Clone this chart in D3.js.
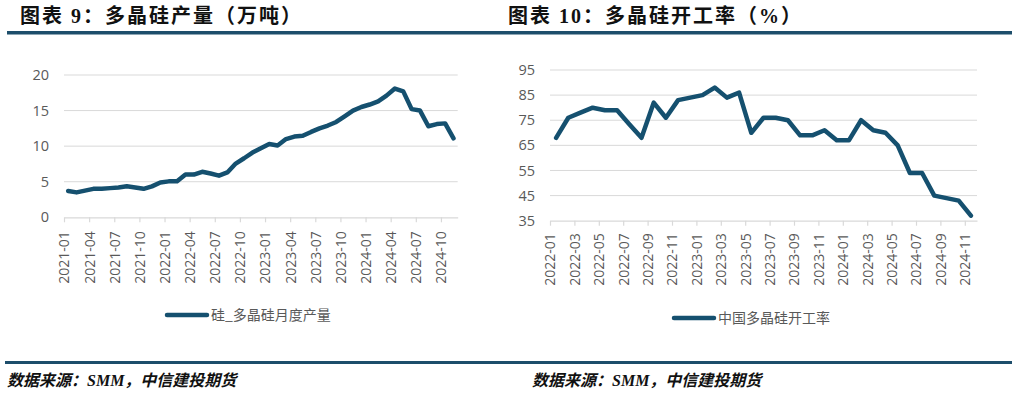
<!DOCTYPE html>
<html>
<head>
<meta charset="utf-8">
<script src="https://cdn.jsdelivr.net/npm/d3@7"></script>
<style>
  body { margin: 0; background: #fff; }
  svg { display: block; }
</style>
</head>
<body>
<svg id="chart" width="1017" height="397"></svg>
<script>
(function () {
    // polysilicon monthly output (10k tons), 2021-01 .. 2024-11
    var outputMonths = [
        "2021-01","2021-02","2021-03","2021-04","2021-05","2021-06","2021-07","2021-08","2021-09","2021-10","2021-11","2021-12",
        "2022-01","2022-02","2022-03","2022-04","2022-05","2022-06","2022-07","2022-08","2022-09","2022-10","2022-11","2022-12",
        "2023-01","2023-02","2023-03","2023-04","2023-05","2023-06","2023-07","2023-08","2023-09","2023-10","2023-11","2023-12",
        "2024-01","2024-02","2024-03","2024-04","2024-05","2024-06","2024-07","2024-08","2024-09","2024-10","2024-11"
    ];
    var outputValues = [
        3.7, 3.5, 3.75, 4.0, 4.0, 4.1, 4.2, 4.35, 4.2, 4.0, 4.35, 4.9,
        5.05, 5.05, 6.0, 6.0, 6.4, 6.15, 5.85, 6.3, 7.55, 8.3, 9.1, 9.7,
        10.3, 10.1, 11.0, 11.35, 11.45, 12.0, 12.5, 12.9, 13.4, 14.2, 15.0, 15.5,
        15.85, 16.3, 17.1, 18.1, 17.7, 15.2, 15.0, 12.8, 13.1, 13.2, 11.1
    ];
    var outputTicks = [0, 5, 10, 15, 20];

    // polysilicon operating rate (%), 2022-01 .. 2024-11
    var rateMonths = [
        "2022-01","2022-02","2022-03","2022-04","2022-05","2022-06","2022-07","2022-08","2022-09","2022-10","2022-11","2022-12",
        "2023-01","2023-02","2023-03","2023-04","2023-05","2023-06","2023-07","2023-08","2023-09","2023-10","2023-11","2023-12",
        "2024-01","2024-02","2024-03","2024-04","2024-05","2024-06","2024-07","2024-08","2024-09","2024-10","2024-11"
    ];
    var rateValues = [
        68, 76, 78, 80, 79, 79, 73.4, 68, 82, 76, 83, 84,
        85, 88, 84, 86, 70, 76, 76, 75, 69, 69, 71, 67,
        67, 75, 71, 70, 65, 54, 54, 45, 44, 43, 37
    ];
    var rateTicks = [35, 45, 55, 65, 75, 85, 95];

    var lineColor = "#15506f";
    var ruleColor = "#1d4e6b";
    var gridColor = "#d9d9d9";
    var labelColor = "#595959";
    var labelFont = "'Open Sans', 'Noto Sans CJK SC', sans-serif";

    var svg = d3.select("#chart");

    // header titles
    svg.append("text")
        .attr("x", 20).attr("y", 23)
        .attr("font-family", "'Liberation Serif', 'Noto Sans CJK SC', serif")
        .attr("font-weight", "bold").attr("font-size", 20)
        .attr("letter-spacing", 2).attr("fill", "#111")
        .text("图表 9：多晶硅产量（万吨）");

    svg.append("text")
        .attr("x", 508).attr("y", 23)
        .attr("font-family", "'Liberation Serif', 'Noto Sans CJK SC', serif")
        .attr("font-weight", "bold").attr("font-size", 20)
        .attr("letter-spacing", 2).attr("fill", "#111")
        .text("图表 10：多晶硅开工率（%）");

    // thick rules top and bottom
    svg.append("rect").attr("x", 7).attr("y", 31).attr("width", 1005).attr("height", 3.5).attr("fill", ruleColor);
    svg.append("rect").attr("x", 5).attr("y", 361).attr("width", 1007).attr("height", 3).attr("fill", ruleColor);

    // source notes
    [7, 532].forEach(function (x) {
        svg.append("text")
            .attr("x", x).attr("y", 386)
            .attr("font-family", "'Liberation Serif', 'Noto Sans CJK SC', serif")
            .attr("font-weight", "bold").attr("font-style", "italic")
            .attr("font-size", 16).attr("fill", "#111")
            .text("数据来源：SMM，中信建投期货");
    });

    // one line chart panel
    function drawPanel(opts) {
        var g = svg.append("g");

        var x = d3.scaleLinear().domain([0, opts.months.length]).range([opts.left, opts.right]);
        var y = d3.scaleLinear().domain(opts.yDomain).range([opts.bottom, opts.top]);

        // gridlines
        g.append("g")
            .selectAll("line")
            .data(opts.yTicks.slice(1))
            .join("line")
            .attr("x1", opts.left).attr("x2", opts.right)
            .attr("y1", function (d) { return y(d); })
            .attr("y2", function (d) { return y(d); })
            .attr("stroke", gridColor).attr("stroke-width", 1);

        // y labels
        var yAxis = g.append("g")
            .attr("transform", "translate(" + (opts.left - 6) + ",0)")
            .call(d3.axisLeft(y).tickValues(opts.yTicks).tickSize(0).tickPadding(9));
        yAxis.select(".domain").remove();
        yAxis.selectAll("text")
            .attr("font-family", labelFont).attr("font-size", 14.5).attr("fill", labelColor);

        // x axis with rotated month labels, ticks on slot edges
        var tickIdx = d3.range(0, opts.months.length, opts.step);
        var xAxis = g.append("g")
            .attr("transform", "translate(0," + opts.bottom + ")")
            .call(d3.axisBottom(x)
                .tickValues(tickIdx)
                .tickFormat(function (i) { return opts.months[i]; })
                .tickSizeInner(5).tickSizeOuter(0));
        xAxis.select(".domain").attr("stroke", gridColor).attr("stroke-width", 1.2);
        xAxis.selectAll(".tick line").attr("stroke", gridColor).attr("stroke-width", 1.2);
        xAxis.selectAll("text")
            .attr("transform", "rotate(-90)")
            .attr("x", -opts.labelGap).attr("y", 0).attr("dy", "0.35em")
            .style("text-anchor", "end")
            .attr("font-family", labelFont).attr("font-size", 14).attr("fill", labelColor);

        // the series
        var line = d3.line()
            .x(function (d, i) { return x(i + 0.5); })
            .y(function (d) { return y(d); });

        g.append("path")
            .datum(opts.values)
            .attr("d", line)
            .attr("fill", "none")
            .attr("stroke", lineColor)
            .attr("stroke-width", 4.5)
            .attr("stroke-linejoin", "round")
            .attr("stroke-linecap", "round");

        // legend
        g.append("line")
            .attr("x1", opts.legendX).attr("x2", opts.legendX + 40)
            .attr("y1", opts.legendY).attr("y2", opts.legendY)
            .attr("stroke", lineColor).attr("stroke-width", 4.5)
            .attr("stroke-linecap", "round");
        g.append("text")
            .attr("x", opts.legendX + 44).attr("y", opts.legendY + 5)
            .attr("font-family", "'Noto Sans CJK SC', sans-serif")
            .attr("font-size", 14).attr("fill", labelColor)
            .text(opts.legend);
    }

    drawPanel({
        months: outputMonths, values: outputValues, yTicks: outputTicks,
        yDomain: [0, 20], left: 64, right: 457.7, top: 75, bottom: 217.3,
        step: 3, labelGap: 14, legendX: 167, legendY: 315, legend: "硅_多晶硅月度产量"
    });

    drawPanel({
        months: rateMonths, values: rateValues, yTicks: rateTicks,
        yDomain: [35, 95], left: 550, right: 977, top: 70, bottom: 220.7,
        step: 2, labelGap: 12.5, legendX: 674, legendY: 318, legend: "中国多晶硅开工率"
    });
})();
</script>
</body>
</html>
